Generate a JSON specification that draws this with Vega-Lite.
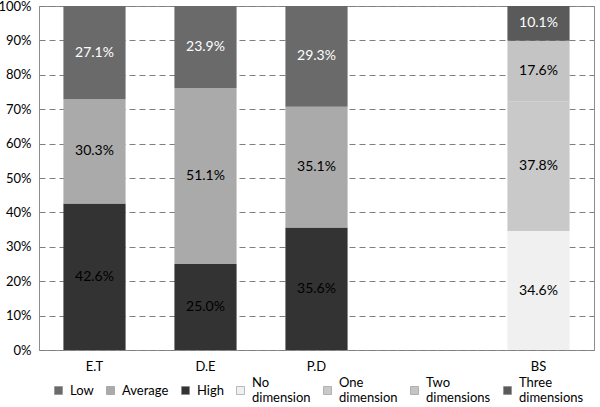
{
  "$schema": "https://vega.github.io/schema/vega-lite/v6.json",
  "width": 555,
  "height": 344,
  "autosize": {"type": "none"},
  "padding": {"left": 39, "top": 6, "right": 6, "bottom": 57},
  "background": "white",
  "config": {
    "font": "Lato",
    "view": {"stroke": "#8c8c8c", "strokeWidth": 1},
    "axis": {"labelFont": "Lato", "labelFontSize": 13, "labelColor": "#000", "ticks": false, "domain": false, "title": null}
  },
  "data": {
    "values": [
      {"group": "E.T", "cat": "High", "value": 0.426, "ord": 1},
      {"group": "E.T", "cat": "Average", "value": 0.303, "ord": 2},
      {"group": "E.T", "cat": "Low", "value": 0.271, "ord": 3},
      {"group": "D.E", "cat": "High", "value": 0.250, "ord": 1},
      {"group": "D.E", "cat": "Average", "value": 0.511, "ord": 2},
      {"group": "D.E", "cat": "Low", "value": 0.239, "ord": 3},
      {"group": "P.D", "cat": "High", "value": 0.356, "ord": 1},
      {"group": "P.D", "cat": "Average", "value": 0.351, "ord": 2},
      {"group": "P.D", "cat": "Low", "value": 0.293, "ord": 3},
      {"group": "BS", "cat": "No dimension", "value": 0.346, "ord": 1},
      {"group": "BS", "cat": "One dimension", "value": 0.378, "ord": 2},
      {"group": "BS", "cat": "Two dimensions", "value": 0.176, "ord": 3},
      {"group": "BS", "cat": "Three dimensions", "value": 0.101, "ord": 4}
    ]
  },
  "encoding": {
    "x": {
      "field": "group",
      "type": "nominal",
      "sort": null,
      "scale": {"domain": ["E.T", "D.E", "P.D", "", "BS"], "paddingInner": 0.44, "paddingOuter": 0.22},
      "axis": {"labelAngle": 0, "labelPadding": 10, "grid": false}
    },
    "y": {
      "field": "value",
      "type": "quantitative",
      "stack": "normalize",
      "scale": {"domain": [0, 1], "nice": false},
      "axis": {"format": ".0%", "values": [0, 0.1, 0.2, 0.3, 0.4, 0.5, 0.6, 0.7, 0.8, 0.9, 1], "labelOverlap": false, "grid": true, "gridColor": "#7f7f7f", "gridDash": [6, 4], "gridWidth": 1, "labelPadding": 8}
    },
    "order": {"field": "ord", "type": "quantitative"}
  },
  "layer": [
    {
      "mark": {"type": "bar"},
      "encoding": {
        "color": {
          "field": "cat",
          "type": "nominal",
          "scale": {
            "domain": ["Low", "Average", "High", "No dimension", "One dimension", "Two dimensions", "Three dimensions"],
            "range": ["#6a6a6a", "#aaaaaa", "#333333", "#f0f0f0", "#c9c9c9", "#c4c4c4", "#5a5a5a"]
          },
          "legend": {
            "orient": "none",
            "legendX": 13,
            "legendY": 378,
            "direction": "horizontal",
            "columns": 7,
            "gridAlign": "none",
            "title": null,
            "symbolType": "square",
            "symbolSize": 64,
            "symbolStrokeColor": "#7f7f7f",
            "symbolStrokeWidth": 0.5,
            "labelFont": "Lato",
            "labelFontSize": 13,
            "labelColor": "#000",
            "labelBaseline": "middle",
            "labelOffset": 5,
            "columnPadding": 10,
            "labelExpr": "datum.label == 'No dimension' ? ['No', 'dimension'] : datum.label == 'One dimension' ? ['One', 'dimension'] : datum.label == 'Two dimensions' ? ['Two', 'dimensions'] : datum.label == 'Three dimensions' ? ['Three', 'dimensions'] : datum.label",
            "encode": {
              "labels": {"update": {"dy": {"signal": "indexof(datum.label, ' ') > 0 ? -8 : 0"}}}
            }
          }
        }
      }
    },
    {
      "mark": {"type": "text", "font": "Lato", "fontSize": 14},
      "encoding": {
        "y": {
          "field": "value",
          "type": "quantitative",
          "stack": "normalize",
          "bandPosition": 0.5,
          "axis": {"format": ".0%", "values": [0, 0.1, 0.2, 0.3, 0.4, 0.5, 0.6, 0.7, 0.8, 0.9, 1], "labelOverlap": false, "grid": true, "gridColor": "#7f7f7f", "gridDash": [6, 4], "gridWidth": 1, "labelPadding": 8}
        },
        "text": {"field": "value", "type": "quantitative", "format": ".1%"},
        "color": {
          "condition": {"test": "datum.cat == 'Low' || datum.cat == 'Three dimensions'", "value": "white"},
          "value": "black"
        }
      }
    }
  ]
}
